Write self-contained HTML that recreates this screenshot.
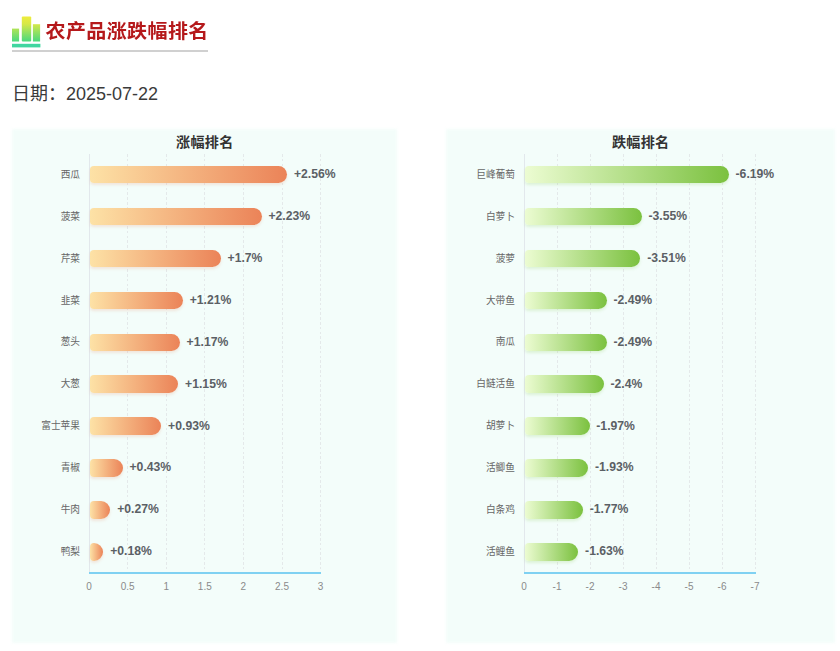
<!DOCTYPE html>
<html lang="zh-CN">
<head>
<meta charset="utf-8">
<title>农产品涨跌幅排名</title>
<style>
html,body{margin:0;padding:0;background:#fff;}
body{width:840px;height:651px;position:relative;overflow:hidden;font-family:"Liberation Sans","Noto Sans CJK SC",sans-serif;}
.abs,.panel,.ctitle,.grid,.xt,.yaxis,.xaxis,.yl,.bar,.vl{position:absolute;}
.icon{position:absolute;left:12px;top:16px;width:29px;height:32px;}
.h1{position:absolute;left:45.5px;top:16.7px;transform:scaleY(0.94);transform-origin:50% 50%;height:28px;line-height:28px;font-size:20px;font-weight:bold;color:#b5191b;white-space:nowrap;letter-spacing:0.4px;}
.uline{position:absolute;left:12px;top:50px;width:195.7px;height:2.3px;background:#d0d0d0;}
.date{position:absolute;left:12px;top:82px;height:24px;line-height:24px;font-size:18px;color:#3a3a3a;white-space:nowrap;}
.panel{background:#f3fdfa;filter:blur(1.7px);}
.ctitle{width:200px;text-align:center;letter-spacing:0.3px;font-size:14.1px;font-weight:bold;color:#333;line-height:20px;white-space:nowrap;}
.grid{width:1px;background:repeating-linear-gradient(180deg,#e4e9ea 0,#e4e9ea 2.6px,transparent 2.6px,transparent 4.8px);}
.yaxis{width:1px;background:#e2e8ec;}
.xaxis{height:1.3px;background:#7fd1f2;}
.xt{width:40px;text-align:center;font-size:10px;line-height:14px;color:#8a8a8a;}
.yl{width:80px;text-align:right;font-size:9.7px;line-height:16px;color:#666;white-space:nowrap;}
.vl{font-size:12.2px;font-weight:bold;line-height:16px;color:#5b6065;white-space:nowrap;}
.bar{border-radius:4px 9px 9px 4px;}
.up{background:linear-gradient(90deg,#fde2a6 0%,#eb8358 100%);box-shadow:0 2px 3px rgba(232,130,90,.18);}
.dn{background:linear-gradient(90deg,#ecfcd2 0%,#7bc13f 100%);box-shadow:0 2px 3px rgba(123,193,63,.18);}
</style>
</head>
<body>
<svg class="icon" viewBox="0 0 29 32">
<defs><linearGradient id="ig" gradientUnits="userSpaceOnUse" x1="0" y1="0.5" x2="0" y2="25.5"><stop offset="0" stop-color="#eeec3c"/><stop offset="0.3" stop-color="#d6e848"/><stop offset="1" stop-color="#48d97e"/></linearGradient></defs>
<rect x="0" y="12.6" width="7.1" height="12.9" fill="url(#ig)"/>
<rect x="9.8" y="0.5" width="9.4" height="25" rx="1" fill="url(#ig)"/>
<rect x="20.9" y="8.2" width="7.2" height="17.3" fill="url(#ig)"/>
<rect x="0" y="27.8" width="28.4" height="3.6" fill="#40d6a0"/>
</svg>
<div class="h1">农产品涨跌幅排名</div>
<div class="uline"></div>
<div class="date">日期：2025-07-22</div>
<div class="panel" style="left:12px;top:129.2px;width:384.5px;height:514.0px"></div>
<div class="ctitle" style="left:104.80000000000001px;top:132px">涨幅排名</div>
<div class="xt" style="left:69.00px;top:580.10px">0</div>
<div class="grid" style="left:127.10px;top:153.5px;height:419.0px"></div>
<div class="xt" style="left:107.60px;top:580.10px">0.5</div>
<div class="grid" style="left:165.70px;top:153.5px;height:419.0px"></div>
<div class="xt" style="left:146.20px;top:580.10px">1</div>
<div class="grid" style="left:204.30px;top:153.5px;height:419.0px"></div>
<div class="xt" style="left:184.80px;top:580.10px">1.5</div>
<div class="grid" style="left:242.90px;top:153.5px;height:419.0px"></div>
<div class="xt" style="left:223.40px;top:580.10px">2</div>
<div class="grid" style="left:281.50px;top:153.5px;height:419.0px"></div>
<div class="xt" style="left:262.00px;top:580.10px">2.5</div>
<div class="grid" style="left:320.10px;top:153.5px;height:419.0px"></div>
<div class="xt" style="left:300.60px;top:580.10px">3</div>
<div class="yaxis" style="left:88.5px;top:153.5px;height:419.0px"></div>
<div class="xaxis" style="left:88.5px;top:572.40px;width:232.60px"></div>
<div class="yl" style="left:0px;top:166.85px">西瓜</div>
<div class="bar up" style="left:90.3px;top:165.90px;width:196.83px;height:17.5px"></div>
<div class="vl" style="left:293.93px;top:166.15px">+2.56%</div>
<div class="yl" style="left:0px;top:208.75px">菠菜</div>
<div class="bar up" style="left:90.3px;top:207.80px;width:171.36px;height:17.5px"></div>
<div class="vl" style="left:268.46px;top:208.05px">+2.23%</div>
<div class="yl" style="left:0px;top:250.65px">芹菜</div>
<div class="bar up" style="left:90.3px;top:249.70px;width:130.44px;height:17.5px"></div>
<div class="vl" style="left:227.54px;top:249.95px">+1.7%</div>
<div class="yl" style="left:0px;top:292.55px">韭菜</div>
<div class="bar up" style="left:90.3px;top:291.60px;width:92.61px;height:17.5px"></div>
<div class="vl" style="left:189.71px;top:291.85px">+1.21%</div>
<div class="yl" style="left:0px;top:334.45px">葱头</div>
<div class="bar up" style="left:90.3px;top:333.50px;width:89.52px;height:17.5px"></div>
<div class="vl" style="left:186.62px;top:333.75px">+1.17%</div>
<div class="yl" style="left:0px;top:376.35px">大葱</div>
<div class="bar up" style="left:90.3px;top:375.40px;width:87.98px;height:17.5px"></div>
<div class="vl" style="left:185.08px;top:375.65px">+1.15%</div>
<div class="yl" style="left:0px;top:418.25px">富士苹果</div>
<div class="bar up" style="left:90.3px;top:417.30px;width:71.00px;height:17.5px"></div>
<div class="vl" style="left:168.10px;top:417.55px">+0.93%</div>
<div class="yl" style="left:0px;top:460.15px">青椒</div>
<div class="bar up" style="left:90.3px;top:459.20px;width:32.40px;height:17.5px"></div>
<div class="vl" style="left:129.50px;top:459.45px">+0.43%</div>
<div class="yl" style="left:0px;top:502.05px">牛肉</div>
<div class="bar up" style="left:90.3px;top:501.10px;width:20.04px;height:17.5px"></div>
<div class="vl" style="left:117.14px;top:501.35px">+0.27%</div>
<div class="yl" style="left:0px;top:543.95px">鸭梨</div>
<div class="bar up" style="left:90.3px;top:543.00px;width:13.10px;height:17.5px"></div>
<div class="vl" style="left:110.20px;top:543.25px">+0.18%</div>
<div class="panel" style="left:445.7px;top:129.2px;width:389.3px;height:514.0px"></div>
<div class="ctitle" style="left:540.7px;top:132px">跌幅排名</div>
<div class="xt" style="left:504.00px;top:580.10px">0</div>
<div class="grid" style="left:556.50px;top:153.5px;height:419.0px"></div>
<div class="xt" style="left:537.00px;top:580.10px">-1</div>
<div class="grid" style="left:589.50px;top:153.5px;height:419.0px"></div>
<div class="xt" style="left:570.00px;top:580.10px">-2</div>
<div class="grid" style="left:622.50px;top:153.5px;height:419.0px"></div>
<div class="xt" style="left:603.00px;top:580.10px">-3</div>
<div class="grid" style="left:655.50px;top:153.5px;height:419.0px"></div>
<div class="xt" style="left:636.00px;top:580.10px">-4</div>
<div class="grid" style="left:688.50px;top:153.5px;height:419.0px"></div>
<div class="xt" style="left:669.00px;top:580.10px">-5</div>
<div class="grid" style="left:721.50px;top:153.5px;height:419.0px"></div>
<div class="xt" style="left:702.00px;top:580.10px">-6</div>
<div class="grid" style="left:754.50px;top:153.5px;height:419.0px"></div>
<div class="xt" style="left:735.00px;top:580.10px">-7</div>
<div class="yaxis" style="left:523.5px;top:153.5px;height:419.0px"></div>
<div class="xaxis" style="left:523.5px;top:572.40px;width:232.00px"></div>
<div class="yl" style="left:435px;top:166.85px">巨峰葡萄</div>
<div class="bar dn" style="left:525.3px;top:165.90px;width:203.47px;height:17.5px"></div>
<div class="vl" style="left:735.57px;top:166.15px">-6.19%</div>
<div class="yl" style="left:435px;top:208.75px">白萝卜</div>
<div class="bar dn" style="left:525.3px;top:207.80px;width:116.35px;height:17.5px"></div>
<div class="vl" style="left:648.45px;top:208.05px">-3.55%</div>
<div class="yl" style="left:435px;top:250.65px">菠萝</div>
<div class="bar dn" style="left:525.3px;top:249.70px;width:115.03px;height:17.5px"></div>
<div class="vl" style="left:647.13px;top:249.95px">-3.51%</div>
<div class="yl" style="left:435px;top:292.55px">大带鱼</div>
<div class="bar dn" style="left:525.3px;top:291.60px;width:81.37px;height:17.5px"></div>
<div class="vl" style="left:613.47px;top:291.85px">-2.49%</div>
<div class="yl" style="left:435px;top:334.45px">南瓜</div>
<div class="bar dn" style="left:525.3px;top:333.50px;width:81.37px;height:17.5px"></div>
<div class="vl" style="left:613.47px;top:333.75px">-2.49%</div>
<div class="yl" style="left:435px;top:376.35px">白鲢活鱼</div>
<div class="bar dn" style="left:525.3px;top:375.40px;width:78.40px;height:17.5px"></div>
<div class="vl" style="left:610.50px;top:375.65px">-2.4%</div>
<div class="yl" style="left:435px;top:418.25px">胡萝卜</div>
<div class="bar dn" style="left:525.3px;top:417.30px;width:64.21px;height:17.5px"></div>
<div class="vl" style="left:596.31px;top:417.55px">-1.97%</div>
<div class="yl" style="left:435px;top:460.15px">活鲫鱼</div>
<div class="bar dn" style="left:525.3px;top:459.20px;width:62.89px;height:17.5px"></div>
<div class="vl" style="left:594.99px;top:459.45px">-1.93%</div>
<div class="yl" style="left:435px;top:502.05px">白条鸡</div>
<div class="bar dn" style="left:525.3px;top:501.10px;width:57.61px;height:17.5px"></div>
<div class="vl" style="left:589.71px;top:501.35px">-1.77%</div>
<div class="yl" style="left:435px;top:543.95px">活鲤鱼</div>
<div class="bar dn" style="left:525.3px;top:543.00px;width:52.99px;height:17.5px"></div>
<div class="vl" style="left:585.09px;top:543.25px">-1.63%</div>
</body>
</html>
